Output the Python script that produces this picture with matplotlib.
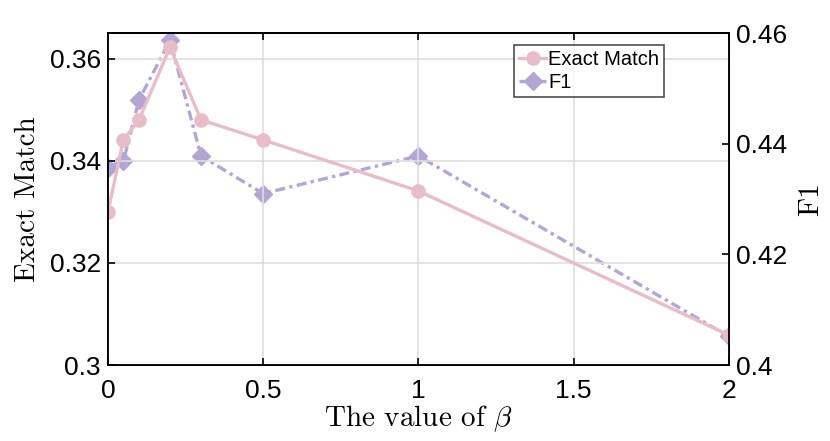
import matplotlib
matplotlib.use("Agg")
import matplotlib.pyplot as plt

# values
beta = [0, 0.05, 0.1, 0.2, 0.3, 0.5, 1, 2]
exact_match = [0.330, 0.3441, 0.348, 0.3622, 0.348, 0.3441, 0.3341, 0.3059]
f1 = [0.4357, 0.4369, 0.4479, 0.4587, 0.4378, 0.4310, 0.4378, 0.4052]

em_ticks = [0.3, 0.32, 0.34, 0.36]
f1_ticks = [0.4, 0.42, 0.44, 0.46]

pink = "#e8bcc8"
purple = "#b3a6d4"

plt.rcParams["font.family"] = ["Liberation Sans", "DejaVu Sans"]
plt.rcParams["mathtext.fontset"] = "cm"

fig = plt.figure(figsize=(8.3, 4.41), dpi=100)
ax1 = fig.add_axes([0.130, 0.172, 0.748, 0.753])
ax2 = ax1.twinx()

l2, = ax2.plot(beta, f1, color=purple, ls="-.", lw=2.4, marker="D",
               markersize=9, label="F1", dashes=(3, 1.3, 1, 1.3))
l1, = ax1.plot(beta, exact_match, color=pink, ls="-", lw=2.4, marker="o",
               markersize=9.5, label="Exact Match")

# keep the pink series on top
ax1.set_zorder(ax2.get_zorder() + 1)
ax1.patch.set_visible(False)

ax1.set_xlim(0, 2)
ax1.set_ylim(0.3, 0.365)
ax2.set_ylim(0.4, 0.46)
ax1.set_xticks([0, 0.5, 1, 1.5, 2])
ax1.set_xticklabels(["0", "0.5", "1", "1.5", "2"])
ax1.set_yticks(em_ticks)
ax1.set_yticklabels(["0.3", "0.32", "0.34", "0.36"])
ax2.set_yticks(f1_ticks)
ax2.set_yticklabels(["0.4", "0.42", "0.44", "0.46"])

ax1.grid(True, color="#dedede", lw=1.2)
ax1.set_axisbelow(True)

for ax in (ax1, ax2):
    ax.tick_params(direction="in", labelsize=19, length=5, width=1.2, pad=5)
    for sp in ax.spines.values():
        sp.set_linewidth(1.3)
ax1.tick_params(axis="x", top=True, pad=10)

ax1.set_xlabel(r"The value of $\beta$", family="cmr10", fontsize=21, labelpad=0)
ax1.set_ylabel("Exact Match", family="cmr10", fontsize=21, labelpad=6)
ax2.set_ylabel("F1", family="cmr10", fontsize=21, labelpad=8)

leg = ax1.legend(handles=[l1, l2], loc="upper left", bbox_to_anchor=(0.654, 0.964),
                 fontsize=14.5, frameon=True, fancybox=False, borderpad=0.25,
                 handlelength=1.35, handletextpad=0.1, labelspacing=0.2,
                 borderaxespad=0)
leg.get_frame().set_edgecolor("#222222")
leg.get_frame().set_linewidth(1.2)

fig.savefig("out.png", dpi=100)
